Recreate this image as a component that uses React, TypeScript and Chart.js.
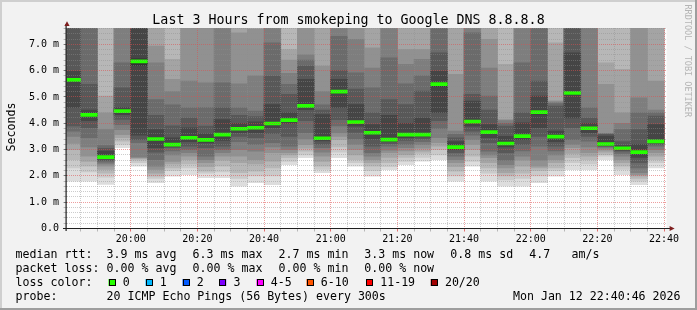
import React, { useEffect, useRef } from "react";
import { Chart, registerables } from "chart.js";

Chart.register(...registerables);

// ---------- data ----------
// 20 sorted ping RTTs (ms) per 5-minute step, 19:40 .. 22:35 (step start)
const pingsSorted: number[][] = [
  [1.80, 2.30, 2.62, 3.00, 3.23, 3.50, 3.70, 3.90, 4.60, 5.60, 5.70, 5.98, 7.90, 8.40, 9.00, 9.60, 10.5, 11.5, 13.0, 15.0],
  [1.80, 2.15, 2.37, 2.55, 2.75, 3.10, 3.45, 3.83, 4.10, 4.28, 4.36, 4.50, 5.48, 8.20, 8.80, 9.50, 10.3, 11.2, 12.5, 14.0],
  [1.68, 1.95, 2.10, 2.25, 2.37, 2.45, 2.52, 2.58, 2.64, 2.69, 2.73, 2.94, 3.05, 3.15, 3.76, 4.40, 5.03, 8.50, 10.0, 12.0],
  [3.07, 3.20, 3.32, 3.45, 3.57, 3.76, 3.95, 4.15, 4.33, 4.42, 4.50, 4.60, 5.35, 6.30, 8.00, 8.80, 9.50, 10.5, 11.5, 13.0],
  [2.37, 2.50, 2.60, 2.65, 2.69, 2.72, 3.26, 3.38, 3.55, 6.20, 6.45, 7.90, 8.50, 9.00, 9.60, 10.2, 11.0, 12.0, 13.5, 15.0],
  [1.74, 1.90, 1.99, 2.10, 2.25, 2.37, 2.62, 2.90, 3.07, 3.35, 3.45, 3.76, 4.30, 4.90, 6.30, 6.93, 8.20, 9.00, 10.0, 12.0],
  [1.99, 2.20, 2.30, 2.45, 2.55, 2.80, 2.95, 3.07, 3.12, 3.17, 3.22, 3.45, 3.90, 4.70, 5.20, 5.67, 6.43, 8.00, 9.00, 11.0],
  [2.05, 2.30, 2.45, 2.62, 2.75, 2.88, 3.00, 3.13, 3.30, 3.42, 3.48, 3.83, 4.20, 4.59, 5.60, 8.00, 8.80, 9.60, 10.5, 12.0],
  [1.93, 2.10, 2.18, 2.35, 2.50, 2.62, 2.75, 3.07, 3.25, 3.34, 3.40, 3.60, 3.89, 4.60, 5.54, 8.10, 8.90, 9.70, 10.8, 12.5],
  [1.93, 2.15, 2.37, 2.60, 2.75, 2.88, 3.00, 3.13, 3.35, 3.52, 3.62, 4.14, 4.59, 5.54, 8.00, 8.50, 9.20, 10.0, 11.0, 13.0],
  [1.61, 1.90, 2.12, 2.50, 2.75, 3.00, 3.30, 3.50, 3.64, 3.76, 3.82, 4.00, 4.30, 4.59, 5.50, 7.44, 8.50, 9.30, 10.2, 12.0],
  [1.74, 2.00, 2.18, 2.45, 2.62, 2.94, 3.20, 3.45, 3.64, 3.80, 3.86, 4.05, 4.25, 4.46, 5.80, 7.57, 8.50, 9.30, 10.2, 12.0],
  [1.67, 2.00, 2.30, 2.56, 2.88, 3.10, 3.26, 3.60, 3.83, 3.96, 4.02, 4.71, 5.79, 7.06, 8.00, 8.60, 9.30, 10.0, 11.0, 13.0],
  [2.43, 2.55, 2.69, 2.80, 2.88, 3.00, 3.13, 3.50, 4.00, 4.10, 4.15, 4.40, 5.10, 5.48, 5.90, 6.40, 6.80, 8.50, 9.50, 11.0],
  [2.69, 2.80, 2.94, 3.05, 3.19, 3.40, 3.64, 4.10, 4.52, 4.62, 4.70, 5.67, 6.17, 6.40, 6.60, 8.50, 9.20, 10.0, 11.0, 12.5],
  [2.12, 2.25, 2.37, 2.55, 2.75, 2.90, 3.07, 3.20, 3.33, 3.40, 3.46, 4.33, 4.50, 4.70, 5.20, 6.17, 8.30, 9.00, 10.0, 12.0],
  [2.69, 2.90, 3.10, 3.38, 3.50, 3.64, 3.90, 4.14, 4.60, 5.15, 5.25, 5.67, 6.00, 7.30, 8.20, 8.90, 9.60, 10.5, 11.5, 13.0],
  [2.37, 2.50, 2.62, 2.80, 3.00, 3.20, 3.40, 3.65, 3.89, 4.00, 4.08, 4.71, 5.30, 5.92, 7.19, 8.30, 9.00, 9.80, 10.8, 12.5],
  [1.99, 2.20, 2.37, 2.50, 2.62, 2.75, 2.88, 3.13, 3.40, 3.60, 3.68, 3.95, 4.40, 5.35, 6.10, 6.87, 8.40, 9.20, 10.2, 12.0],
  [2.24, 2.35, 2.50, 2.70, 2.88, 2.98, 3.13, 3.22, 3.30, 3.36, 3.40, 4.30, 4.90, 6.49, 8.20, 8.90, 9.60, 10.5, 11.5, 13.0],
  [2.43, 2.55, 2.70, 2.81, 2.95, 3.07, 3.20, 3.35, 3.45, 3.54, 3.60, 4.00, 4.71, 5.50, 6.24, 6.80, 8.30, 9.00, 10.0, 12.0],
  [2.56, 2.70, 2.85, 2.94, 3.05, 3.19, 3.30, 3.40, 3.48, 3.55, 3.60, 4.20, 5.22, 5.80, 6.43, 6.80, 8.30, 9.00, 10.0, 12.0],
  [2.62, 2.80, 3.00, 3.13, 3.26, 3.45, 3.80, 4.10, 4.40, 5.40, 5.55, 5.98, 6.68, 8.00, 8.70, 9.40, 10.2, 11.0, 12.0, 14.0],
  [1.80, 2.00, 2.18, 2.35, 2.50, 2.62, 2.75, 2.88, 3.00, 3.07, 3.12, 3.30, 3.45, 3.58, 3.70, 5.86, 8.40, 9.20, 10.2, 12.0],
  [2.37, 2.55, 2.75, 3.00, 3.20, 3.38, 3.55, 3.70, 3.89, 4.02, 4.10, 4.84, 5.10, 7.44, 8.20, 8.90, 9.60, 10.5, 11.5, 13.0],
  [1.80, 2.10, 2.30, 2.50, 2.69, 2.80, 2.94, 3.26, 3.45, 3.62, 3.70, 3.95, 4.50, 5.03, 6.10, 7.19, 8.30, 9.00, 10.0, 12.0],
  [1.61, 1.85, 2.00, 2.12, 2.30, 2.43, 2.60, 2.88, 3.10, 3.20, 3.26, 3.50, 3.89, 4.00, 4.10, 4.14, 6.24, 8.50, 9.50, 11.0],
  [1.61, 1.90, 2.10, 2.37, 2.60, 2.75, 2.95, 3.19, 3.38, 3.48, 3.54, 4.02, 4.40, 6.30, 8.20, 8.90, 9.60, 10.5, 11.5, 13.0],
  [1.74, 2.00, 2.20, 2.30, 2.37, 2.60, 3.13, 3.50, 3.83, 4.35, 4.48, 5.03, 5.60, 8.10, 8.80, 9.50, 10.3, 11.2, 12.5, 14.0],
  [1.99, 2.20, 2.30, 2.50, 2.62, 2.80, 2.95, 3.13, 3.30, 3.46, 3.52, 3.70, 4.65, 4.75, 4.80, 4.85, 7.06, 8.50, 9.50, 11.0],
  [2.24, 2.50, 2.69, 2.85, 3.07, 3.20, 3.38, 3.83, 4.20, 5.10, 5.20, 6.68, 8.00, 8.70, 9.40, 10.2, 11.0, 12.0, 13.5, 15.0],
  [2.24, 2.45, 2.62, 2.75, 2.88, 3.10, 3.32, 3.50, 3.64, 3.78, 3.84, 4.00, 4.20, 4.59, 8.10, 8.80, 9.50, 10.3, 11.2, 12.5],
  [2.62, 2.75, 2.81, 2.90, 2.98, 3.05, 3.10, 3.13, 3.16, 3.19, 3.24, 3.51, 3.58, 3.60, 3.62, 5.48, 6.30, 8.40, 9.50, 11.0],
  [2.05, 2.25, 2.37, 2.50, 2.62, 2.75, 2.85, 2.94, 2.98, 3.02, 3.08, 3.15, 3.30, 3.76, 4.00, 4.40, 6.05, 8.50, 9.50, 11.0],
  [1.67, 1.80, 1.90, 2.00, 2.05, 2.12, 2.30, 2.50, 2.70, 2.86, 2.94, 3.20, 3.76, 4.40, 4.97, 8.30, 9.00, 9.80, 10.8, 12.5],
  [2.30, 2.50, 2.62, 2.75, 2.88, 3.00, 3.13, 3.20, 3.25, 3.28, 3.34, 3.95, 4.27, 4.40, 4.50, 5.60, 8.40, 9.20, 10.2, 12.0],
];

const medianRtt = [
  5.65, 4.32, 2.71, 4.46, 6.35, 3.40, 3.19, 3.45, 3.37, 3.57, 3.79, 3.83,
  3.99, 4.12, 4.66, 3.43, 5.20, 4.04, 3.64, 3.38, 3.57, 3.57, 5.49, 3.09,
  4.06, 3.66, 3.23, 3.51, 4.42, 3.49, 5.15, 3.81, 3.21, 3.05, 2.90, 3.31,
];

const firstStepStart = "19:40";
const stepMinutes = 5;
const windowStart = "19:40:46";
const windowEnd = "22:40:46";
const xTickLabels = ["20:00", "20:20", "20:40", "21:00", "21:20", "21:40", "22:00", "22:20", "22:40"];
const yTickLabels = ["0.0", "1.0 m", "2.0 m", "3.0 m", "4.0 m", "5.0 m", "6.0 m", "7.0 m"];
const yMaxMs = 7.62;

const titleText = "Last 3 Hours from smokeping to Google DNS 8.8.8.8";
const rttStats = ["3.9 ms avg", "6.3 ms max", "2.7 ms min", "3.3 ms now", "0.8 ms sd", "4.7", "am/s"];
const lossStats = ["0.00 % avg", "0.00 % max", "0.00 % min", "0.00 % now"];
const lossLabels = ["0", "1", "2", "3", "4-5", "6-10", "11-19", "20/20"];
const lossColors = ["#26ff00", "#00b8ff", "#0059ff", "#7e00ff", "#ff00ff", "#ff5500", "#ff0000", "#a10000"];
const probeText = "20 ICMP Echo Pings (56 Bytes) every 300s";
const dateText = "Mon Jan 12 22:40:46 2026";

// ---------- layout / style ----------
const W = 697;
const H = 310;
const FONT = '"DejaVu Sans Mono", monospace';
const rttX = [106.6, 192.6, 278.6, 364.3, 450.3, 529.3, 571.6];
const lossBoxX = [108.5, 145.5, 182.5, 219.2, 256.5, 306.5, 366, 430.7];
const rowBase = [257.7, 271.7, 285.7, 299.7];

const toMin = (s: string) => {
  const p = s.split(":").map(Number);
  return p[0] * 60 + p[1] + (p[2] || 0) / 60;
};

export default function App() {
  const ref = useRef<HTMLCanvasElement>(null);

  useEffect(() => {
    document.body.style.margin = "0";
    const canvas = ref.current;
    if (!canvas) return;

    const t0 = toMin(firstStepStart);
    const centers = pingsSorted.map((_, k) => t0 + stepMinutes * (k + 0.5));
    const xMin = toMin(windowStart);
    const xMax = toMin(windowEnd);
    const xTickValues: number[] = [];
    for (let v = Math.ceil(xMin / stepMinutes) * stepMinutes; v <= xMax; v += stepMinutes) xTickValues.push(v);
    const yTickValues: number[] = [];
    for (let i = 0; i * 0.2 <= yMaxMs + 1e-9; i++) yTickValues.push(Math.round(i * 2) / 10);
    const majorX = xTickLabels.map(toMin);

    const half = 10;
    const datasets: any[] = [];
    for (let b = 1; b <= half; b++) {
      const g = Math.floor((190 / half) * (half - b)) + 50;
      datasets.push({
        type: "bar",
        data: pingsSorted.map((p, k) => ({ x: centers[k], y: [p[b - 1], p[20 - b]] })),
        backgroundColor: `rgb(${g},${g},${g})`,
        borderWidth: 0,
        grouped: false,
        barPercentage: 1,
        categoryPercentage: 1,
        order: 100 - b,
        clip: 0,
      });
    }
    const pxPerMs = 200.5 / yMaxMs;
    const hh = 1.5 / pxPerMs;
    datasets.push({
      type: "bar",
      data: medianRtt.map((m, k) => ({ x: centers[k], y: [m - hh, m + hh] })),
      backgroundColor: lossColors[0],
      borderWidth: 0,
      grouped: false,
      barPercentage: 1,
      categoryPercentage: 1,
      order: 0,
      clip: 0,
    });

    const GRID = "rgba(143,143,143,0.45)";
    const MGRID = "rgba(222,79,79,0.55)";

    const decor = {
      id: "rrdDecor",
      beforeDraw(chart: any) {
        const { ctx, chartArea: a } = chart;
        ctx.save();
        ctx.fillStyle = "#f2f2f2";
        ctx.fillRect(0, 0, W, H);
        ctx.fillStyle = "#cfcfcf";
        ctx.fillRect(0, 0, W, 2);
        ctx.fillRect(0, 0, 2, H);
        ctx.fillStyle = "#9e9e9e";
        ctx.fillRect(0, H - 2, W, 2);
        ctx.fillRect(W - 2, 0, 2, H);
        ctx.fillStyle = "#ffffff";
        ctx.fillRect(a.left, a.top, a.right - a.left, a.bottom - a.top);
        ctx.restore();
      },
      afterDraw(chart: any) {
        const { ctx, chartArea: a } = chart;
        ctx.save();
        // axes
        ctx.strokeStyle = "#1f1f1f";
        ctx.lineWidth = 1.2;
        ctx.beginPath();
        ctx.moveTo(66.1, a.bottom + 2.5);
        ctx.lineTo(66.1, 24);
        ctx.moveTo(63, a.bottom);
        ctx.lineTo(670.5, a.bottom);
        ctx.stroke();
        // arrows
        ctx.fillStyle = "#7f1f1f";
        ctx.beginPath();
        ctx.moveTo(67, 21.3);
        ctx.lineTo(69.6, 26);
        ctx.lineTo(64.4, 26);
        ctx.closePath();
        ctx.fill();
        ctx.beginPath();
        ctx.moveTo(674.6, a.bottom);
        ctx.lineTo(669.6, a.bottom - 2.6);
        ctx.lineTo(669.6, a.bottom + 2.6);
        ctx.closePath();
        ctx.fill();

        // title
        ctx.fillStyle = "#000";
        ctx.textBaseline = "alphabetic";
        ctx.textAlign = "center";
        ctx.font = `13.3px ${FONT}`;
        ctx.fillText(titleText, 348.5, 24);

        // y title
        ctx.font = `11.6px ${FONT}`;
        ctx.save();
        ctx.translate(15, 127);
        ctx.rotate(-Math.PI / 2);
        ctx.fillText("Seconds", 0, 0);
        ctx.restore();

        // watermark
        ctx.save();
        ctx.fillStyle = "#b5b5b5";
        ctx.font = `8.5px ${FONT}`;
        ctx.textAlign = "left";
        ctx.translate(685, 4.5);
        ctx.rotate(Math.PI / 2);
        ctx.fillText("RRDTOOL / TOBI OETIKER", 0, 0);
        ctx.restore();

        // legend
        ctx.textAlign = "left";
        ctx.font = `11.6px ${FONT}`;
        ctx.fillStyle = "#000";
        ctx.fillText("median rtt:", 15.6, rowBase[0]);
        rttStats.forEach((s, i) => ctx.fillText(s, rttX[i], rowBase[0]));
        ctx.fillText("packet loss:", 15.6, rowBase[1]);
        lossStats.forEach((s, i) => ctx.fillText(s, rttX[i], rowBase[1]));
        ctx.fillText("loss color:", 15.6, rowBase[2]);
        lossLabels.forEach((s, i) => {
          const bx = lossBoxX[i];
          ctx.fillStyle = lossColors[i];
          ctx.fillRect(bx, 279, 7, 7);
          ctx.strokeStyle = "#000";
          ctx.lineWidth = 1;
          ctx.strokeRect(Math.round(bx) + 0.5, 279.5, 6, 6);
          ctx.fillStyle = "#000";
          ctx.fillText(s, bx + 14.2, rowBase[2]);
        });
        ctx.fillText("probe:", 15.6, rowBase[3]);
        ctx.fillText(probeText, rttX[0], rowBase[3]);
        ctx.textAlign = "right";
        ctx.fillText(dateText, 680.5, rowBase[3]);
        ctx.restore();
      },
    };

    const chart = new Chart(canvas, {
      type: "bar",
      data: { datasets },
      options: {
        responsive: false,
        animation: false,
        devicePixelRatio: 1,
        events: [],
        layout: { padding: { left: 0, top: 28, right: 30.4, bottom: 0 } },
        plugins: { legend: { display: false }, tooltip: { enabled: false }, title: { display: false } },
        scales: {
          x: {
            type: "linear",
            min: xMin,
            max: xMax,
            bounds: "data",
            offset: false,
            afterFit: (s: any) => {
              s.height = 81.5;
            },
            afterBuildTicks: (s: any) => {
              s.ticks = xTickValues.map((v) => ({ value: v }));
            },
            grid: {
              offset: false,
              z: 1,
              lineWidth: 1,
              color: (c: any) => (majorX.includes(Math.round(c.tick?.value)) ? MGRID : GRID),
              drawTicks: true,
              tickLength: 3,
              tickColor: (c: any) => (majorX.includes(Math.round(c.tick?.value)) ? "rgba(222,79,79,0.8)" : "rgba(143,143,143,0.6)"),
            },
            border: { display: false, dash: [1, 1] },
            ticks: {
              autoSkip: false,
              maxRotation: 0,
              minRotation: 0,
              padding: 1.5,
              color: "#000",
              font: { family: FONT, size: 10 },
              callback: (v: any) => {
                const i = majorX.indexOf(Math.round(Number(v)));
                return i >= 0 ? xTickLabels[i] : "";
              },
            },
          },
          y: {
            type: "linear",
            min: 0,
            max: yMaxMs,
            bounds: "data",
            afterFit: (s: any) => {
              s.width = 66.6;
            },
            afterBuildTicks: (s: any) => {
              s.ticks = yTickValues.map((v) => ({ value: v }));
            },
            grid: {
              z: 1,
              lineWidth: 1,
              color: (c: any) => (Math.round((c.tick?.value ?? 0) * 5) % 5 === 0 ? MGRID : GRID),
              drawTicks: true,
              tickLength: 3,
              tickColor: (c: any) => (Math.round((c.tick?.value ?? 0) * 5) % 5 === 0 ? "rgba(90,90,90,0.8)" : "rgba(143,143,143,0.6)"),
            },
            border: { display: false, dash: [1, 1] },
            ticks: {
              autoSkip: false,
              padding: 4.6,
              color: "#000",
              font: { family: FONT, size: 10 },
              callback: (v: any) => {
                const i = Math.round(Number(v) * 5);
                return i % 5 === 0 && yTickLabels[i / 5] !== undefined ? yTickLabels[i / 5] : "";
              },
            },
          },
        },
      },
      plugins: [decor],
    } as any);

    return () => chart.destroy();
  }, []);

  return (
    <div style={{ position: "absolute", left: 0, top: 0, width: W, height: H }}>
      <canvas ref={ref} width={W} height={H} style={{ display: "block", width: W, height: H }} />
    </div>
  );
}
